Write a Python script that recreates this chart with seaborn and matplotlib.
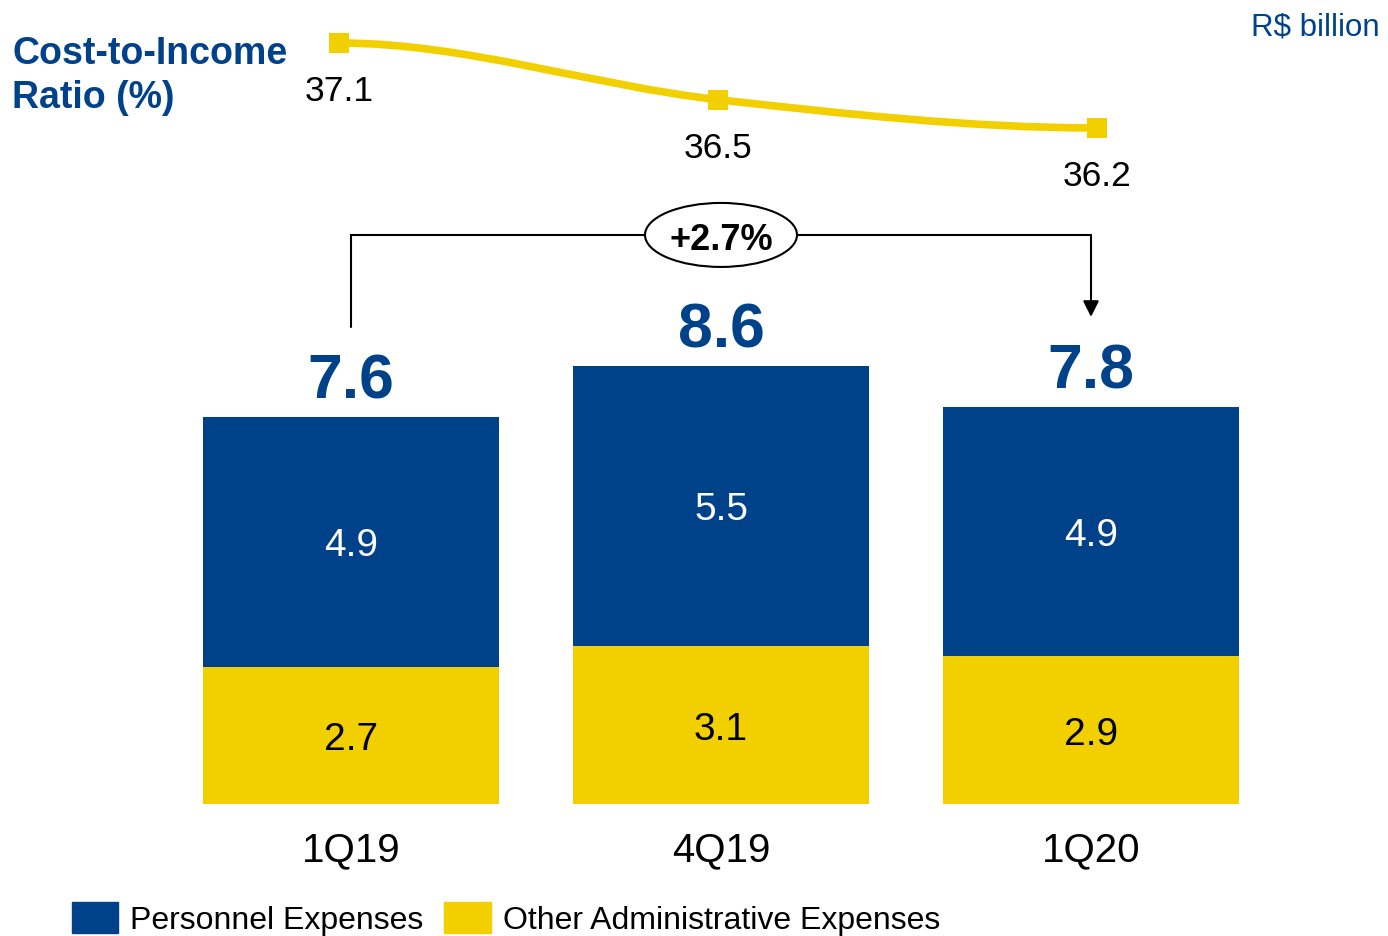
import numpy as np
import pandas as pd
import matplotlib
matplotlib.use("Agg")
import matplotlib.pyplot as plt
import seaborn as sns
from matplotlib.path import Path
from matplotlib.patches import PathPatch, Ellipse

# data
quarters = ["1Q19", "4Q19", "1Q20"]
personnel = [4.9, 5.5, 4.9]
other_admin = [2.7, 3.1, 2.9]
totals = [7.6, 8.6, 7.8]
cost_income = [37.1, 36.5, 36.2]
growth_label = "+2.7%"

BLUE = "#00428A"
YELLOW = "#F2D000"

sns.set_style("white")
plt.rcParams["font.family"] = ["Liberation Sans", "DejaVu Sans"]
plt.rcParams["text.color"] = "black"

df = pd.DataFrame({"quarter": quarters, "personnel": personnel,
                   "other": other_admin, "total": totals})

fig = plt.figure(figsize=(13.88, 9.36), dpi=100)

# bar axes (bottom of bars at 804 px from top)
ax = fig.add_axes([0, 132 / 936, 1, 804 / 936])
sns.barplot(data=df, x="quarter", y="total", color=BLUE, saturation=1,
            width=0.8, linewidth=0, ax=ax)
sns.barplot(data=df, x="quarter", y="other", color=YELLOW, saturation=1,
            width=0.8, linewidth=0, ax=ax)
ax.set_xlim(-351 / 370, (1388 - 351) / 370)
ax.set_ylim(0, 804 / 50.9)
ax.set_xlabel("")
ax.set_ylabel("")
ax.set_yticks([])
ax.tick_params(axis="x", length=0, pad=20, labelsize=29, labelcolor="black")
sns.despine(ax=ax, left=True, bottom=True)
ax.patch.set_visible(False)

for i in range(len(quarters)):
    ax.text(i, other_admin[i] / 2 - 0.1, f"{other_admin[i]:.1f}", ha="center",
            va="center", fontsize=28, color="black")
    ax.text(i, other_admin[i] + personnel[i] / 2 - 0.08, f"{personnel[i]:.1f}",
            ha="center", va="center", fontsize=28, color="white")
    ax.text(i, totals[i] + 0.37, f"{totals[i]:.1f}", ha="center",
            va="baseline", fontsize=45, fontweight="bold", color=BLUE)

# growth bracket
top = max(totals) + 2.58
y_start = totals[0] + 1.77
y_end = totals[-1] + 1.77
ax.plot([0, 0, 2, 2], [y_start, top, top, top], color="black", lw=1.5,
        solid_joinstyle="miter")
ax.annotate("", xy=(2, y_end), xytext=(2, top),
            arrowprops=dict(arrowstyle="-|>", color="black", lw=1.5,
                            mutation_scale=24, shrinkA=0, shrinkB=0))
ax.add_patch(Ellipse((1, top), 152 / 370, 64 / 50.9, facecolor="white",
                     edgecolor="black", lw=1.5, zorder=5))
ax.text(1, top - 0.1, growth_label, ha="center", va="center", fontsize=26,
        fontweight="bold", color="black", zorder=6)

# cost-to-income line axes (full figure)
lax = fig.add_axes([0, 0, 1, 1])
lax.patch.set_visible(False)

xs = np.arange(len(cost_income))
ys = np.array(cost_income, dtype=float)
slopes = np.zeros_like(ys)
slopes[1:-1] = (ys[2:] - ys[:-2]) / (xs[2:] - xs[:-2])
verts = [(xs[0], ys[0])]
codes = [Path.MOVETO]
for i in range(len(xs) - 1):
    d = (xs[i + 1] - xs[i]) / 3
    verts += [(xs[i] + d, ys[i] + slopes[i] * d),
              (xs[i + 1] - d, ys[i + 1] - slopes[i + 1] * d),
              (xs[i + 1], ys[i + 1])]
    codes += [Path.CURVE4] * 3
lax.add_patch(PathPatch(Path(verts, codes), facecolor="none",
                        edgecolor=YELLOW, lw=5.5, capstyle="butt"))
sns.scatterplot(x=xs, y=ys, marker="s", s=200, color=YELLOW,
                edgecolor=YELLOW, linewidth=0, ax=lax, zorder=5)
lax.set_xlim(-339 / 379, (1388 - 339) / 379)
lax.set_ylim(37.1 - 893 / 94.4, 37.1 + 43 / 94.4)
lax.axis("off")
for x, y in zip(xs, ys):
    lax.annotate(f"{y:.1f}", (x, y), xytext=(0, -35), textcoords="offset points",
                 ha="center", va="center", fontsize=25.5, color="black")

# titles
fig.text(12 / 1388, 1 - 36 / 936, "Cost-to-Income\nRatio (%)", ha="left",
         va="top", fontsize=27, fontweight="bold", color=BLUE,
         linespacing=1.3)
fig.text(1380 / 1388, 1 - 27 / 936, "R$ billion", ha="right", va="center",
         fontsize=22.5, color=BLUE)

# legend
handles = [plt.Rectangle((0, 0), 1, 1, color=BLUE),
           plt.Rectangle((0, 0), 1, 1, color=YELLOW)]
fig.legend(handles, ["Personnel Expenses", "Other Administrative Expenses"],
           loc="center left", bbox_to_anchor=(72 / 1388, 1 - 919 / 936),
           ncol=2, frameon=False, fontsize=23, handlelength=1.45,
           handleheight=1.1, handletextpad=0.38, columnspacing=0.65,
           borderpad=0, borderaxespad=0)

fig.savefig("out.png", dpi=100)
